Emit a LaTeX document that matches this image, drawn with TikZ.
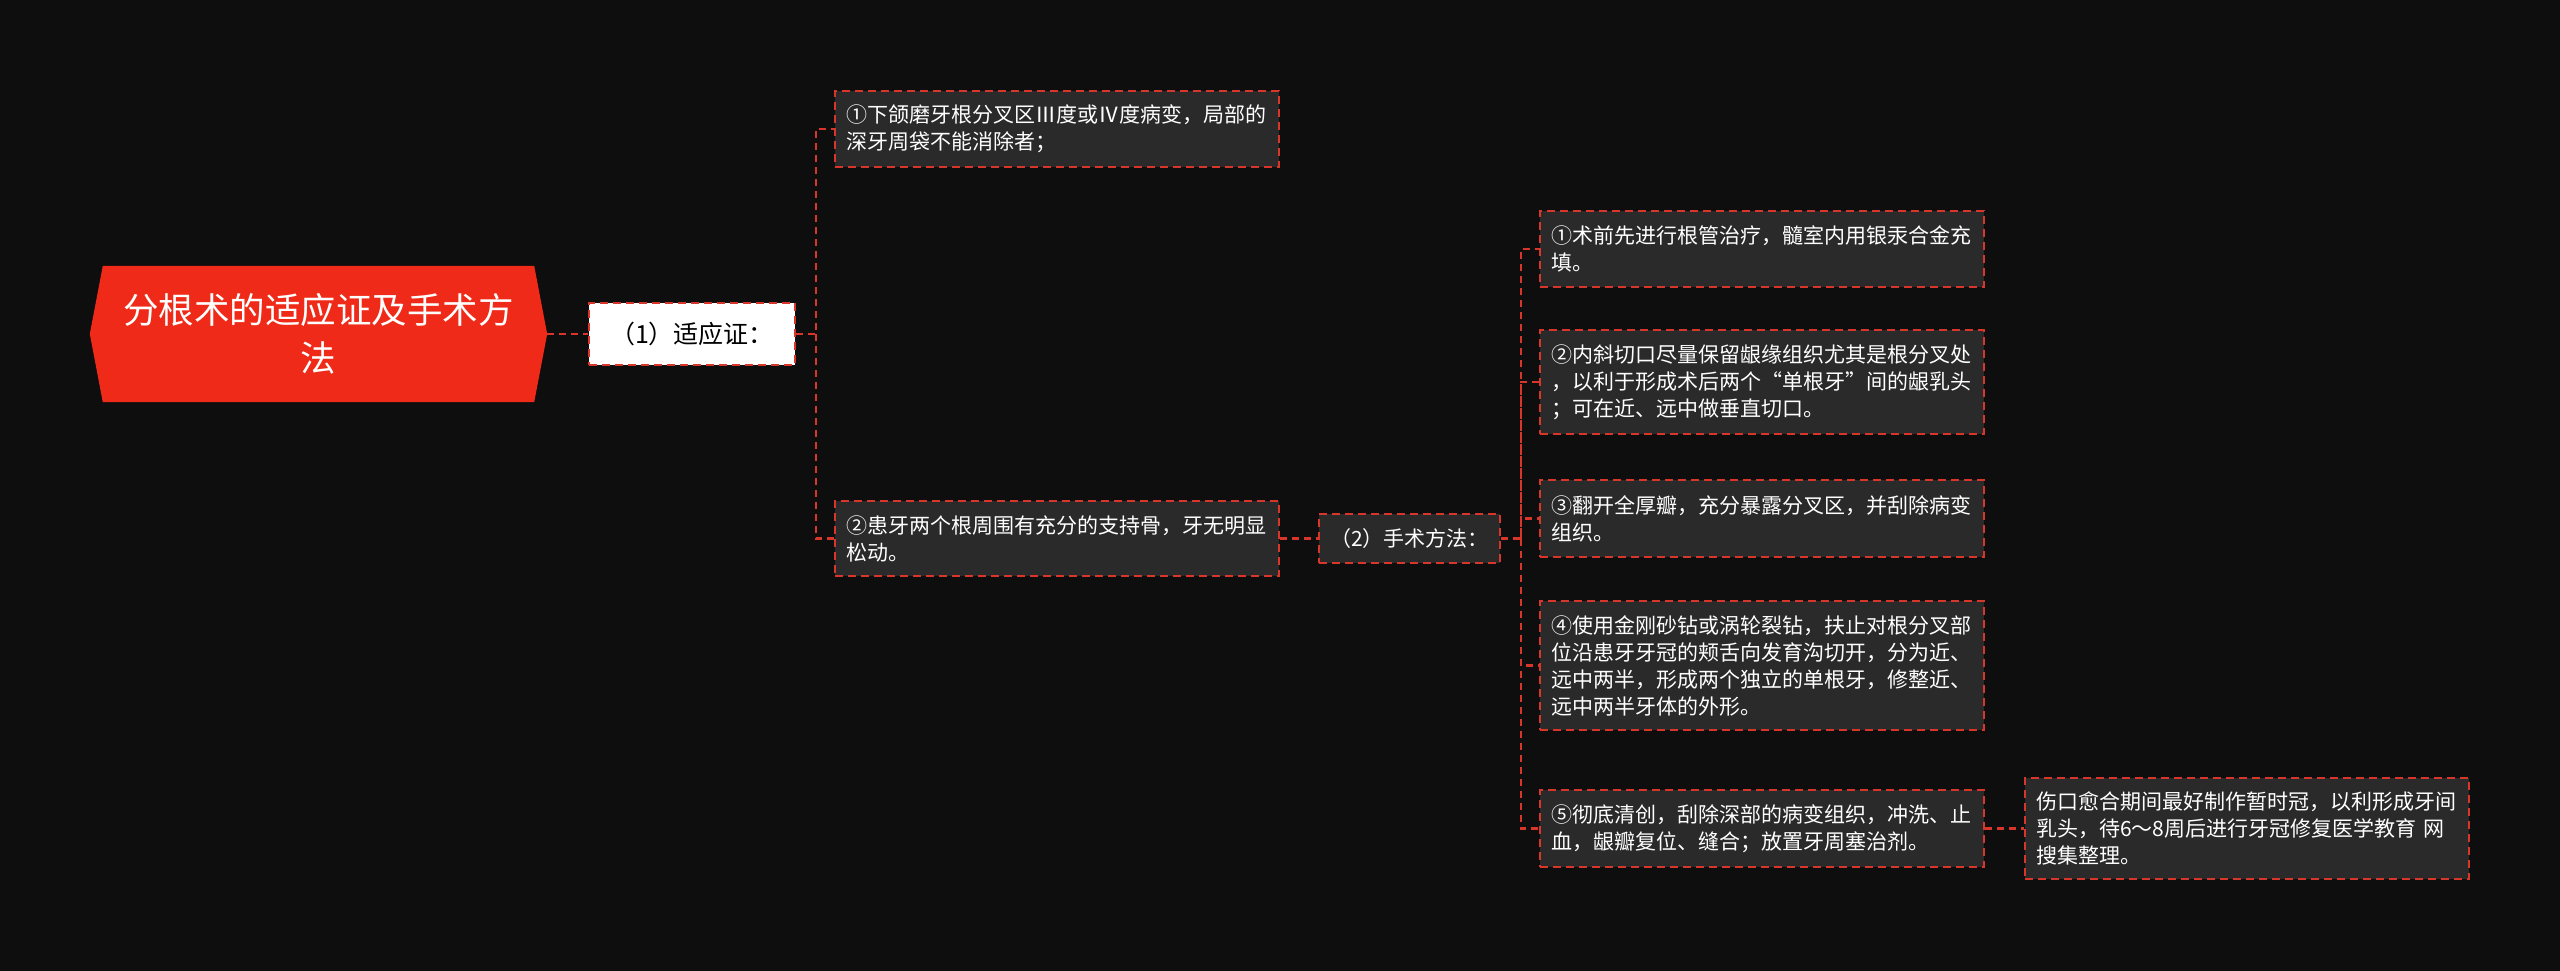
\documentclass[tikz,border=0pt]{standalone}
\usepackage{fontspec}
\setmainfont{Noto Sans CJK SC}
\usetikzlibrary{backgrounds}
\definecolor{bgc}{HTML}{0E0E0E}
\definecolor{leaffill}{HTML}{2A2A2A}
\definecolor{redline}{HTML}{D9362B}
\definecolor{rootred}{HTML}{EF2A18}
\tikzset{
  leafbox/.style={draw=redline, fill=leaffill, line width=1.8pt, dash pattern=on 8pt off 5pt,
    text=white, align=left, text width=422pt, inner xsep=11pt, inner ysep=0pt, minimum width=444pt,
    font=\fontsize{21pt}{27pt}\selectfont},
  midbox/.style={draw=redline, fill=leaffill, line width=1.8pt, dash pattern=on 8pt off 5pt,
    text=white, align=center, inner sep=0pt,
    font=\fontsize{21pt}{27pt}\selectfont},
  topbox/.style={draw=redline, fill=white, line width=1.8pt, dash pattern=on 8pt off 5pt,
    text=black, align=center, inner sep=0pt,
    font=\fontsize{25pt}{30pt}\selectfont},
  conn/.style={draw=redline, line width=2.4pt, dash pattern=on 7pt off 5pt}
}
\begin{document}
\begin{tikzpicture}[x=1pt,y=-1pt]
\useasboundingbox (0,0) rectangle (2560,971);
\begin{scope}[on background layer]
\fill[bgc] (0,0) rectangle (2560,971);
\end{scope}

\node[inner sep=0pt, minimum width=457pt, minimum height=136pt, text=white, align=center,
  font=\fontsize{35.5pt}{48pt}\selectfont] (root) at (318.5,334) {分根术的适应证及手术方\\法};
\begin{scope}[on background layer]
\fill[rootred] ([xshift=13pt]root.north west) -- ([xshift=-13pt]root.north east) -- (root.east)
  -- ([xshift=-13pt]root.south east) -- ([xshift=13pt]root.south west) -- (root.west) -- cycle;
\end{scope}

\node[topbox, minimum width=206pt, minimum height=62pt] (l1) at (692,334) {（1）适应证：};

\node[leafbox, minimum height=76pt] (a1) at (1057,129) {①下颌磨牙根分叉区Ⅲ度或Ⅳ度病变，局部的\\深牙周袋不能消除者；};
\node[leafbox, minimum height=75pt] (a2) at (1057,538.5) {②患牙两个根周围有充分的支持骨，牙无明显\\松动。};

\node[midbox, minimum width=181pt, minimum height=49pt] (l2) at (1409.5,538.5) {（2）手术方法：};

\node[leafbox, minimum height=76pt] (c1) at (1762,249) {①术前先进行根管治疗，髓室内用银汞合金充\\填。};
\node[leafbox, minimum height=104pt] (c2) at (1762,382) {②内斜切口尽量保留龈缘组织尤其是根分叉处\\，以利于形成术后两个“单根牙”间的龈乳头\\；可在近、远中做垂直切口。};
\node[leafbox, minimum height=77pt] (c3) at (1762,518.5) {③翻开全厚瓣，充分暴露分叉区，并刮除病变\\组织。};
\node[leafbox, minimum height=129pt] (c4) at (1762,665.5) {④使用金刚砂钻或涡轮裂钻，扶止对根分叉部\\位沿患牙牙冠的颊舌向发育沟切开，分为近、\\远中两半，形成两个独立的单根牙，修整近、\\远中两半牙体的外形。};
\node[leafbox, minimum height=77pt] (c5) at (1762,828.5) {⑤彻底清创，刮除深部的病变组织，冲洗、止\\血，龈瓣复位、缝合；放置牙周塞治剂。};

\node[leafbox, minimum height=101pt] (d1) at (2247,828.5) {伤口愈合期间最好制作暂时冠，以利形成牙间\\乳头，待6～8周后进行牙冠修复医学教育 网\\搜集整理。};

\begin{scope}[on background layer]
\draw[conn] (root.east) -- (l1.west);
\draw[conn] (l1.east) -- ++(20,0) coordinate (s1) |- (a1.west);
\draw[conn] (s1) |- (a2.west);
\draw[conn] (a2.east) -- (l2.west);
\draw[conn] (l2.east) -- ++(20,0) coordinate (s2) |- (c1.west);
\draw[conn] (s2) |- (c2.west);
\draw[conn] (s2) |- (c3.west);
\draw[conn] (s2) |- (c4.west);
\draw[conn] (s2) |- (c5.west);
\draw[conn] (c5.east) -- (d1.west);
\end{scope}
\end{tikzpicture}
\end{document}
